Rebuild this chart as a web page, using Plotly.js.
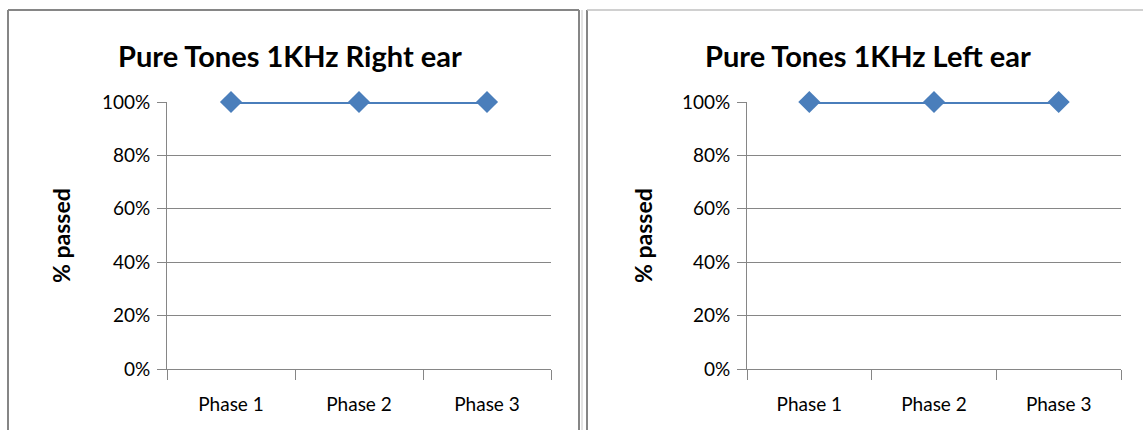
<!DOCTYPE html>
<html>
<head>
<meta charset="utf-8">
<script src="https://cdn.plot.ly/plotly-3.0.1.min.js"></script>
<style>html,body{margin:0;padding:0;background:#fff;}#chart{width:1143px;height:430px;}</style>
</head>
<body>
<div id="chart"></div>
<script>
const categories = ['Phase 1', 'Phase 2', 'Phase 3'];
const rightEar = [1, 1, 1];
const leftEar = [1, 1, 1];
const titles = ['Pure Tones 1KHz Right ear', 'Pure Tones 1KHz Left ear'];
const yTitle = '% passed';

const W = 1143, H = 430;
const px = v => v / W;
const py = v => 1 - v / H;
const FONT = 'Lato, "Open Sans", sans-serif';
const grid = '#868686';
const blue = '#4a7ebb';

function trace(y, xa, ya) {
  return {
    x: categories, y: y, xaxis: xa, yaxis: ya, type: 'scatter', mode: 'lines+markers',
    line: {color: blue, width: 4},
    marker: {symbol: 'diamond', size: 17, color: blue},
    cliponaxis: false, hoverinfo: 'skip', showlegend: false
  };
}

function xaxis(domain, anchor) {
  return {
    domain: domain, anchor: anchor, type: 'category', range: [-0.5, 2.5],
    tickson: 'boundaries', ticks: 'outside', ticklen: 10, tickcolor: grid, tickwidth: 1,
    showline: true, linecolor: grid, linewidth: 1, showgrid: false, zeroline: false,
    ticklabelstandoff: 18,
    tickfont: {family: FONT, size: 19, color: '#000'}
  };
}
function yaxis(anchor) {
  return {
    domain: [py(369), py(102)], anchor: anchor, range: [0, 1], dtick: 0.2, tick0: 0,
    tickformat: '.0%', ticks: 'outside', ticklen: 9, tickcolor: grid, tickwidth: 1,
    showline: true, linecolor: grid, linewidth: 1, showgrid: true, gridcolor: grid, gridwidth: 1,
    zeroline: false, ticklabelstandoff: 3,
    tickfont: {family: FONT, size: 19, color: '#000'}
  };
}

const line = (x0, y0, x1, y1, c, w) => ({type: 'line', xref: 'paper', yref: 'paper',
  x0: px(x0), y0: py(y0), x1: px(x1), y1: py(y1), line: {color: c, width: w}});

const ann = (text, x, y, size, angle) => ({text: '<b>' + text + '</b>', xref: 'paper', yref: 'paper',
  x: px(x), y: py(y), xanchor: 'center', yanchor: 'middle', textangle: angle || 0,
  showarrow: false, font: {family: FONT, size: size, color: '#000'}});

const layout = {
  width: W, height: H, margin: {l: 0, r: 0, t: 0, b: 0},
  paper_bgcolor: '#fff', plot_bgcolor: 'rgba(0,0,0,0)',
  xaxis: xaxis([px(167), px(551)], 'y'),
  yaxis: yaxis('x'),
  xaxis2: xaxis([px(747), px(1121)], 'y2'),
  yaxis2: yaxis('x2'),
  shapes: [
    line(8, 10, 8, 440, grid, 2),
    line(8, 10, 579, 10, grid, 2),
    line(579, 10, 579, 440, grid, 2),
    line(582, 10, 582, 440, '#c8c8c8', 1),
    line(587, 10, 587, 440, grid, 2),
    line(587, 10, 1150, 10, '#c0c0c0', 1.5)
  ],
  annotations: [
    ann(titles[0], 290, 55, 29),
    ann(titles[1], 868, 55, 29),
    ann(yTitle, 61, 236, 23, -90),
    ann(yTitle, 643, 236, 23, -90)
  ]
};

Plotly.newPlot('chart', [trace(rightEar, 'x', 'y'), trace(leftEar, 'x2', 'y2')], layout,
  {staticPlot: true, displayModeBar: false});
</script>
</body>
</html>
